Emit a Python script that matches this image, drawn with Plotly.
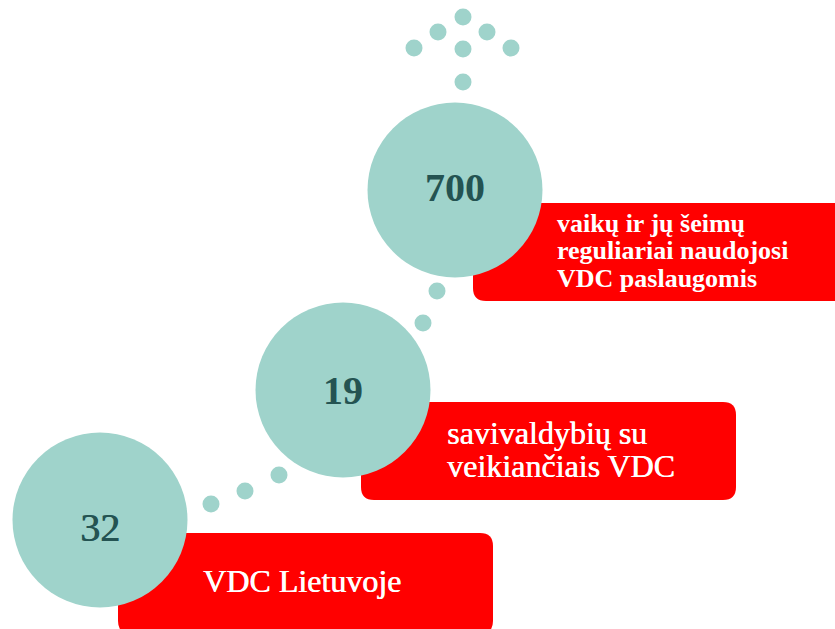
import plotly.graph_objects as go

# values and labels shown in the infographic
numbers = ["700", "19", "32"]
labels = [
    ["vaikų ir jų šeimų", "reguliariai naudojosi", "VDC paslaugomis"],
    ["savivaldybių su", "veikiančiais VDC"],
    ["VDC Lietuvoje"],
]

# layout of the elements (page pixel coordinates, y grows downwards)
circle_x = [455, 343, 100]
circle_y = [190, 390, 520]
number_y = [191, 394, 531]
box_x0 = [473, 361, 118]
box_x1 = [850, 736, 493]
box_y0 = [203, 402, 533]
box_y1 = [301, 500, 634]
label_x = [555, 445, 201]
label_y = [251, 449, 581]
label_size = [26, 32, 32]
line_size = [21, 25, 32]   # sets the line spacing (1.3 x this size)
label_bold = [True, False, False]
number_bold = [True, True, False]

dots_x = [463, 438, 487, 414, 463, 511, 463, 437, 423, 279, 245, 211]
dots_y = [17, 32, 32, 48, 49, 48, 82, 291, 323, 475, 491, 504]

TEAL = "#9fd3cb"
DARK = "#245352"
RED = "#ff0000"
FONT = "Liberation Serif"


def rounded_rect(x0, y0, x1, y1, r):
    return (f"M {x0 + r},{y0} L {x1 - r},{y0} Q {x1},{y0} {x1},{y0 + r} "
            f"L {x1},{y1 - r} Q {x1},{y1} {x1 - r},{y1} "
            f"L {x0 + r},{y1} Q {x0},{y1} {x0},{y1 - r} "
            f"L {x0},{y0 + r} Q {x0},{y0} {x0 + r},{y0} Z")


fig = go.Figure()

# small connecting dots
fig.add_trace(go.Scatter(
    x=dots_x, y=dots_y, mode="markers",
    marker=dict(size=17, color=TEAL, line=dict(width=0)),
    hoverinfo="skip", showlegend=False,
))

# big circles
fig.add_trace(go.Scatter(
    x=circle_x, y=circle_y, mode="markers",
    marker=dict(size=175, color=TEAL, line=dict(width=0)),
    hoverinfo="skip", showlegend=False,
))

# numbers inside circles (the last one is drawn a bit lighter)
for i, n in enumerate(numbers):
    fig.add_trace(go.Scatter(
        x=[circle_x[i]], y=[number_y[i]], mode="text",
        text=[f"<b>{n}</b>" if number_bold[i] else n],
        textfont=dict(family=FONT, size=40, color=DARK,
                      shadow="none" if number_bold[i] else f"0.8px 0 0 {DARK}"),
        textposition="middle center",
        hoverinfo="skip", showlegend=False,
    ))

for i, lines in enumerate(labels):
    fig.add_shape(
        type="path",
        path=rounded_rect(box_x0[i], box_y0[i], box_x1[i], box_y1[i], 13),
        fillcolor=RED, line=dict(width=0), layer="below",
    )
    parts = []
    for line in lines:
        if label_bold[i]:
            line = f"<b>{line}</b>"
        parts.append(f"<span style='font-size:{label_size[i]}px'>{line}</span>")
    fig.add_annotation(
        x=label_x[i], y=label_y[i],
        xanchor="left", yanchor="middle",
        text="<br>".join(parts),
        align="left", showarrow=False,
        font=dict(family=FONT, size=line_size[i], color="white",
                  shadow="none" if label_bold[i] else "0.6px 0 0 white"),
    )

fig.update_layout(
    width=835, height=629,
    margin=dict(l=0, r=0, t=0, b=0),
    plot_bgcolor="white", paper_bgcolor="white",
    xaxis=dict(range=[0, 835], visible=False, fixedrange=True),
    yaxis=dict(range=[629, 0], visible=False, fixedrange=True),
)

# drop the default page margin so the chart fills the window exactly
fig.write_html("out.html", config={"displayModeBar": False},
               post_script="document.body.style.margin = '0';")
